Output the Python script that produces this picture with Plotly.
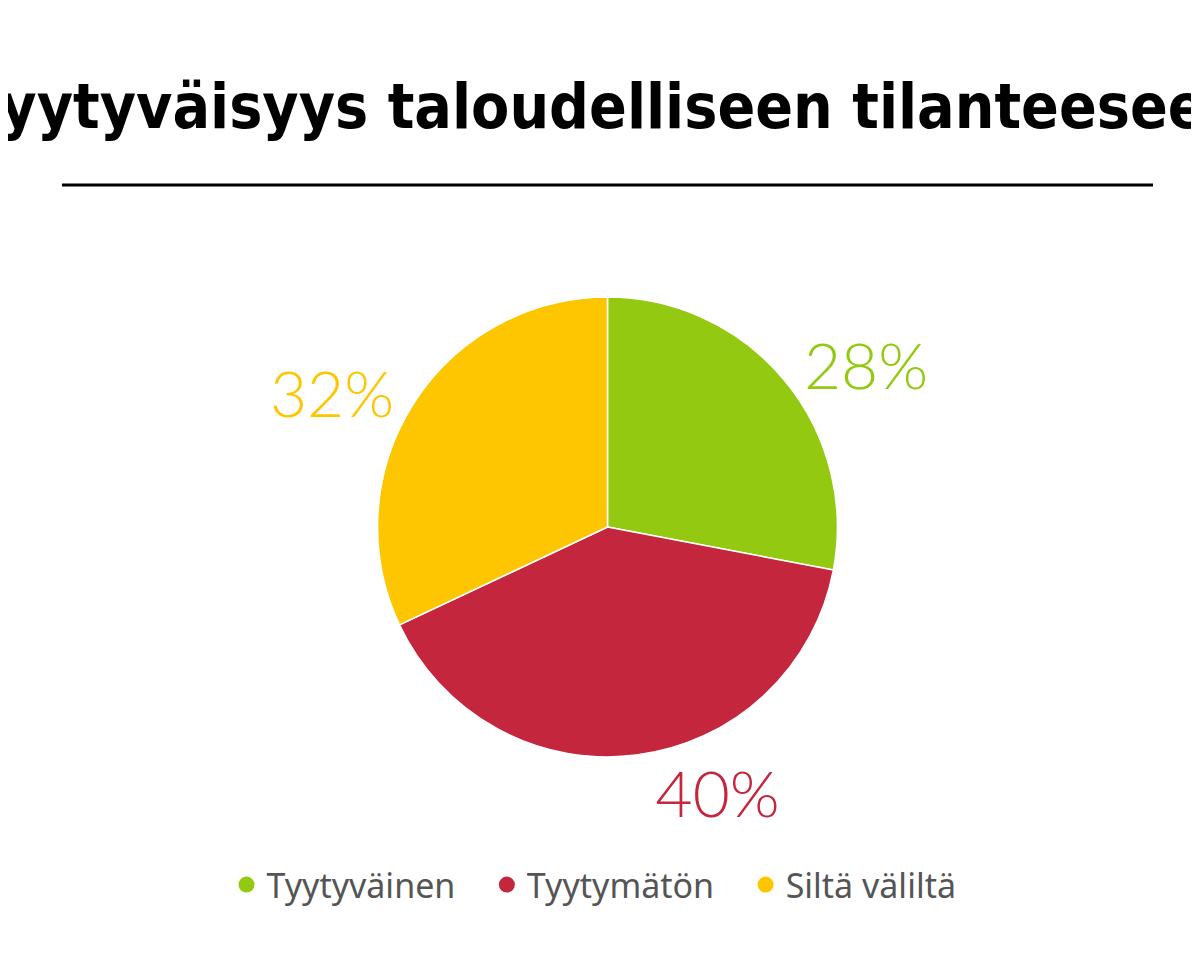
import plotly.graph_objects as go

labels = ["Tyytyväinen", "Tyytymätön", "Siltä väliltä"]
values = [28, 40, 32]
colors = ["#94c912", "#c4263e", "#fec600"]

fig = go.Figure()
fig.add_trace(go.Pie(
    labels=labels, values=values, sort=False, direction="clockwise", rotation=0,
    marker=dict(colors=colors, line=dict(color="white", width=1.5)),
    textinfo="percent", texttemplate="%{percent:.0%}", textposition="outside",
    outsidetextfont=dict(color=colors, size=64, family="Lato", weight=300),
    domain=dict(x=[0.2, 0.8], y=[0.215, 0.697]),
    showlegend=False, hoverinfo="label+percent",
))
for lab, col in zip(labels, colors):
    fig.add_trace(go.Scatter(x=[None], y=[None], mode="markers", name=lab + "   ",
                             marker=dict(color=col, size=28, symbol="circle")))

fig.add_shape(type="line", xref="paper", yref="paper", x0=0.045, x1=0.955,
              y0=1 - 177 / 954, y1=1 - 177 / 954, line=dict(color="black", width=3))

fig.update_layout(
    width=1199, height=954, paper_bgcolor="white", plot_bgcolor="white",
    margin=dict(l=0, r=0, t=0, b=0, autoexpand=False),
    title=dict(text="Tyytyväisyys taloudelliseen tilanteeseen", x=0.5, xanchor="center",
               y=1 - 98 / 954, yanchor="middle",
               font=dict(family="Liberation Sans Narrow, DejaVu Sans Condensed", size=62,
                         color="black", weight="bold")),
    xaxis=dict(visible=False), yaxis=dict(visible=False),
    legend=dict(orientation="h", x=0.5, xanchor="center", y=1 - 877 / 954, yanchor="middle",
                font=dict(family="Noto Sans", size=34, color="#555555"), itemsizing="trace"),
)
fig.write_html("out.html")
